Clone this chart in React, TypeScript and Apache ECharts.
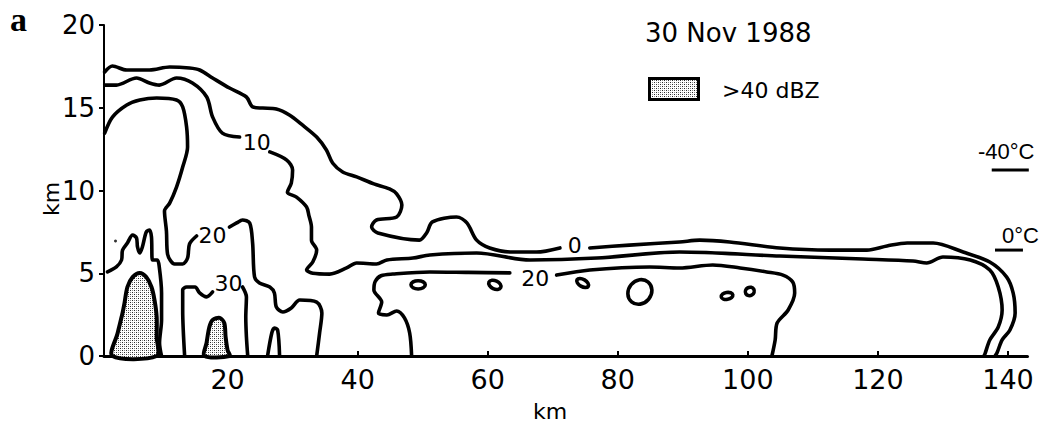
import { useEffect, useRef } from 'react';
import * as echarts from 'echarts';

type Pt = [number, number];

// Axis ticks (km)
const xTickValues = [20, 40, 60, 80, 100, 120, 140];

// 0 dBZ contour, split where its label sits
const dbz0West: Pt[] = [
  [1.1, 17.16], [2.3, 17.52], [4.5, 17.28], [8.0, 17.28], [11.1, 17.46], [14.15, 17.4],
  [15.7, 17.28], [17.7, 16.8], [20.3, 16.19], [22.9, 15.65], [23.85, 15.05], [25.4, 14.98],
  [27.5, 14.92], [29.5, 14.56], [31.5, 13.96], [33.7, 13.23], [35.2, 12.45], [36.15, 11.66],
  [37.7, 11.12], [39.85, 10.82], [42.5, 10.4], [44.9, 10.1], [46.0, 9.8], [46.8, 9.12],
  [46.0, 8.4], [42.9, 8.22], [42.15, 7.79], [43.1, 7.43], [49.5, 7.0], [50.6, 7.43],
  [51.5, 8.1], [55.2, 8.4], [56.8, 8.04], [58.3, 7.0], [60.3, 6.53], [63.8, 6.28],
  [67.5, 6.28], [71.1, 6.53],
];
const dbz0East: Pt[] = [
  [75.7, 6.53], [81.8, 6.7], [89.5, 6.89], [92.6, 7.0], [97.2, 6.89], [104.9, 6.53],
  [112.6, 6.4], [118.3, 6.4], [121.4, 6.65], [124.5, 6.83], [128.5, 6.83], [133.1, 6.28],
  [137.2, 5.68], [139.8, 4.77], [140.8, 3.8], [141.1, 2.6], [140.3, 1.57], [139.1, 0.97],
  [138.3, 0.18], [138.0, 0],
];

// 10 dBZ contour
const dbz10West: Pt[] = [
  [1.1, 16.37], [2.9, 16.37], [6.0, 16.8], [8.0, 16.5], [9.5, 16.37], [12.15, 16.8],
  [14.6, 16.5], [16.8, 15.65], [17.7, 14.44], [19.2, 13.47], [21.85, 13.23],
];
const dbz10East: Pt[] = [
  [26.5, 12.33], [29.1, 11.84], [30.0, 11.24], [29.8, 10.45], [29.2, 9.9], [30.6, 9.6],
  [32.15, 9.0], [32.5, 8.5], [32.9, 7.79], [32.9, 7.0], [33.7, 6.4], [33.1, 5.68],
  [32.15, 5.2], [33.1, 5.0], [35.7, 4.95], [38.3, 5.32], [39.85, 5.62], [42.9, 5.56],
  [44.5, 5.8], [48.5, 5.92], [51.1, 6.1], [58.3, 6.22], [66.5, 5.8], [76.8, 5.92],
  [89.5, 6.28], [104.9, 6.04], [117.7, 5.86], [125.4, 5.74], [127.5, 5.62], [130.0, 5.98],
  [134.2, 5.8], [137.2, 5.2], [138.5, 4.17], [139.1, 2.78], [138.5, 1.75], [137.2, 0.97],
  [136.5, 0.18], [136.3, 0],
];

// 20 dBZ contours
const dbz20WestA: Pt[] = [
  [1.1, 13.47], [2.3, 14.44], [4.5, 15.17], [6.5, 15.47], [9.1, 15.59], [12.15, 15.47],
  [13.1, 15.05], [13.7, 13.84], [13.85, 12.63], [13.1, 11.42], [12.15, 10.21], [11.1, 9.24],
  [10.3, 8.76], [10.6, 7.55], [10.77, 6.16], [11.85, 5.56], [13.1, 5.56], [13.85, 5.92],
  [14.15, 6.77], [15.23, 7.25],
];
const dbz20WestB: Pt[] = [
  [20.3, 7.79], [21.4, 8.04], [22.3, 8.22], [23.4, 8.04], [23.85, 6.83], [24.15, 4.77],
  [24.9, 4.41], [26.5, 4.17], [27.2, 3.81], [27.5, 2.96], [28.5, 2.66], [29.8, 2.9],
  [31.1, 3.38], [33.7, 3.26], [34.5, 2.6], [34.15, 1.39], [33.7, 0],
];
const dbz20EastA: Pt[] = [
  [48.3, 0], [48.0, 1.39], [47.2, 2.3], [46.0, 2.72], [44.5, 2.48], [43.2, 2.6],
  [43.7, 3.26], [42.5, 3.99], [42.7, 4.5], [43.6, 4.85], [45.4, 4.95], [51.1, 5.08],
  [57.0, 5.05], [63.4, 5.02],
];
const dbz20EastB: Pt[] = [
  [70.6, 4.89], [75.7, 5.2], [84.9, 5.38], [89.5, 5.32], [94.6, 5.5], [98.8, 5.32],
  [102.9, 5.08], [105.4, 4.89], [106.9, 4.47], [107.2, 3.8], [106.2, 2.78], [104.5, 1.99],
  [104.2, 0.97], [103.7, 0],
];

// 30 dBZ contours
const dbz30Axis: Pt[] = [
  [1.54, 5.08], [2.9, 5.38], [3.7, 5.8], [3.85, 6.4], [4.6, 6.83], [5.4, 7.31],
  [6.0, 7.13], [6.15, 6.59], [6.5, 6.22], [6.9, 6.59], [7.5, 7.49], [8.0, 7.61],
  [8.3, 7.19], [8.45, 5.8], [9.2, 5.8], [9.5, 5.38], [9.85, 3.81], [9.85, 2.18],
  [9.54, 0.79], [9.85, 0],
];
const dbz30CellA: Pt[] = [
  [13.4, 0], [13.1, 2.78], [13.1, 4.0], [13.7, 4.17], [15.0, 4.17], [15.7, 3.81],
  [16.77, 3.57], [17.7, 3.87],
];
const dbz30CellB: Pt[] = [
  [22.3, 4.17], [22.9, 3.57], [22.8, 2.36], [22.9, 1.15], [23.1, 0],
];
const dbz30Spike: Pt[] = [
  [26.15, 0], [26.8, 1.39], [27.2, 1.69], [27.7, 1.57], [28.0, 0],
];

// Echo cores above 40 dBZ (shaded)
const core1: Pt[] = [
  [2.3, 0], [3.1, 1.39], [3.85, 2.6], [4.15, 3.2], [4.6, 4.17], [5.4, 4.77], [6.5, 5.02],
  [7.5, 4.77], [8.3, 4.17], [8.77, 3.38], [9.1, 2.36], [9.1, 1.15], [9.1, 0],
];
const core2: Pt[] = [
  [16.46, 0], [16.77, 0.79], [17.2, 1.75], [17.7, 2.18], [18.8, 2.3], [19.5, 1.99],
  [19.7, 1.15], [20.0, 0.36], [20.3, 0],
];
const echoCores: Pt[][] = [core1, core2];

// Small closed 30 dBZ cells: centre x, centre y, half-width (km), half-height (km), tilt (deg)
const smallCells: number[][] = [
  [49.3, 4.3, 1.1, 0.25, 0],
  [61.1, 4.3, 1.0, 0.25, -25],
  [74.6, 4.41, 1.0, 0.22, -30],
  [83.4, 3.87, 1.75, 0.78, -40],
  [96.8, 3.63, 0.9, 0.21, 10],
  [100.3, 3.9, 0.7, 0.25, 30],
];

// Stray echo dot
const strayDots: Pt[] = [[2.77, 6.95]];

// Contour value labels
const contourLabelText = ['0', '10', '20', '20', '30'];
const contourLabelPos: Pt[] = [[73.4, 6.7], [24.5, 12.9], [17.7, 7.31], [67.3, 4.7], [20.15, 4.41]];

// Temperature level marks (km)
const levelNames = ['-40°C', '0°C'];
const levelHeights = [11.24, 6.4];
const levelSpans: Pt[] = [[137.5, 143.2], [138.0, 142.3]];

const FONT = '"DejaVu Sans", sans-serif';
const STROKE = 3.6;

export default function App() {
  const ref = useRef<HTMLDivElement>(null);

  useEffect(() => {
    if (!ref.current) return;
    const chart = echarts.init(ref.current, undefined, { renderer: 'svg' });

    // stipple tile for the >40 dBZ shading
    const tile = document.createElement('canvas');
    tile.width = 4;
    tile.height = 4;
    const ctx = tile.getContext('2d');
    if (ctx) {
      ctx.fillStyle = '#ffffff';
      ctx.fillRect(0, 0, 4, 4);
      ctx.fillStyle = '#2a2a2a';
      ctx.fillRect(0, 0, 1, 1);
      ctx.fillRect(2, 2, 1, 1);
      ctx.fillStyle = '#8a8a8a';
      ctx.fillRect(2, 0, 1, 1);
      ctx.fillRect(0, 2, 1, 1);
    }
    const stipple: any = { image: tile, repeat: 'repeat' };

    const contour = (data: Pt[]) => ({
      type: 'line',
      data,
      symbol: 'none',
      showSymbol: false,
      smooth: 0.3,
      clip: false,
      silent: true,
      z: 3,
      lineStyle: { color: '#000', width: STROKE, cap: 'round', join: 'round' },
    });

    const lines = [
      dbz0West, dbz0East, dbz10West, dbz10East, dbz20WestA, dbz20WestB,
      dbz20EastA, dbz20EastB, dbz30Axis, dbz30CellA, dbz30CellB, dbz30Spike,
    ].map(contour);

    const levelLines = levelHeights.map((h, i) => ({
      type: 'line',
      name: levelNames[i],
      data: [[levelSpans[i][0], h], [levelSpans[i][1], h]],
      symbol: 'none',
      clip: false,
      silent: true,
      lineStyle: { color: '#000', width: 3 },
    }));

    chart.setOption({
      animation: false,
      backgroundColor: '#ffffff',
      grid: { left: 104, right: 23.5, top: 25, bottom: 71, outerBoundsMode: 'none' },
      xAxis: {
        type: 'value',
        min: 1,
        max: 143,
        splitLine: { show: false },
        axisLine: { show: true, lineStyle: { color: '#000', width: 3 } },
        axisTick: {
          show: true,
          customValues: xTickValues,
          inside: true,
          length: 5,
          lineStyle: { color: '#000', width: 2 },
        },
        axisLabel: {
          customValues: xTickValues,
          color: '#000',
          fontSize: 27,
          fontFamily: FONT,
          margin: 10,
        },
      },
      yAxis: {
        type: 'value',
        min: 0,
        max: 20,
        interval: 5,
        splitLine: { show: false },
        axisLine: { show: true, lineStyle: { color: '#000', width: 2 } },
        axisTick: { show: true, length: 5, lineStyle: { color: '#000', width: 2 } },
        axisLabel: { color: '#000', fontSize: 26, fontFamily: FONT, margin: 9 },
      },
      series: [
        ...lines,
        ...levelLines,
        {
          type: 'custom',
          coordinateSystem: 'cartesian2d',
          clip: false,
          silent: true,
          z: 2,
          data: echoCores.map((c, i) => [c[0][0], c[0][1], i]),
          encode: { x: 0, y: 1 },
          renderItem: (_params: any, api: any) => {
            const core = echoCores[api.value(2)];
            return {
              type: 'polygon',
              shape: { points: core.map((p) => api.coord(p)), smooth: 0.3 },
              style: { fill: stipple, stroke: '#000', lineWidth: 4 },
            };
          },
        },
        {
          type: 'custom',
          coordinateSystem: 'cartesian2d',
          clip: false,
          silent: true,
          z: 3,
          data: smallCells,
          encode: { x: 0, y: 1 },
          renderItem: (_params: any, api: any) => {
            const c = api.coord([api.value(0), api.value(1)]);
            const rx = api.size([api.value(2), 0])[0];
            const ry = api.size([0, api.value(3)])[1];
            return {
              type: 'ellipse',
              x: c[0],
              y: c[1],
              rotation: (api.value(4) * Math.PI) / 180,
              shape: { cx: 0, cy: 0, rx, ry },
              style: { fill: 'none', stroke: '#000', lineWidth: STROKE },
            };
          },
        },
        {
          type: 'scatter',
          silent: true,
          z: 4,
          symbol: 'circle',
          symbolSize: 0,
          itemStyle: { color: '#000' },
          data: contourLabelPos.map((p, i) => ({ value: p, name: contourLabelText[i] })),
          label: {
            show: true,
            position: 'inside',
            formatter: '{b}',
            color: '#000',
            opacity: 1,
            textBorderWidth: 0,
            fontSize: 22,
            fontFamily: FONT,
          },
        },
        {
          type: 'scatter',
          silent: true,
          symbolSize: 3,
          itemStyle: { color: '#000' },
          data: strayDots,
        },
      ],
      graphic: [
        {
          type: 'text',
          x: 10,
          y: 19,
          style: { text: 'a', font: 'bold 34px "Liberation Serif", serif', fill: '#000', align: 'left', verticalAlign: 'middle' },
        },
        {
          type: 'text',
          x: 645,
          y: 33,
          style: { text: '30 Nov 1988', font: `26px ${FONT}`, fill: '#000', align: 'left', verticalAlign: 'middle' },
        },
        {
          type: 'rect',
          shape: { x: 649.5, y: 78.5, width: 49, height: 21 },
          style: { fill: stipple, stroke: '#000', lineWidth: 3 },
        },
        {
          type: 'text',
          x: 722,
          y: 90,
          style: { text: '>40 dBZ', font: `22px ${FONT}`, fill: '#000', align: 'left', verticalAlign: 'middle' },
        },
        {
          type: 'text',
          x: 978,
          y: 151,
          style: { text: levelNames[0], font: '22px "Liberation Sans", sans-serif', fill: '#000', align: 'left', verticalAlign: 'middle' },
        },
        {
          type: 'text',
          x: 1002,
          y: 235,
          style: { text: levelNames[1], font: '22px "Liberation Sans", sans-serif', fill: '#000', align: 'left', verticalAlign: 'middle' },
        },
        {
          type: 'text',
          x: 51,
          y: 199,
          rotation: Math.PI / 2,
          style: { text: 'km', font: `22px ${FONT}`, fill: '#000', align: 'center', verticalAlign: 'middle' },
        },
        {
          type: 'text',
          x: 550,
          y: 411,
          style: { text: 'km', font: `22px ${FONT}`, fill: '#000', align: 'center', verticalAlign: 'middle' },
        },
      ],
    });

    return () => chart.dispose();
  }, []);

  return (
    <div
      ref={ref}
      style={{ position: 'fixed', left: 0, top: 0, width: 1051, height: 427, background: '#fff' }}
    />
  );
}
